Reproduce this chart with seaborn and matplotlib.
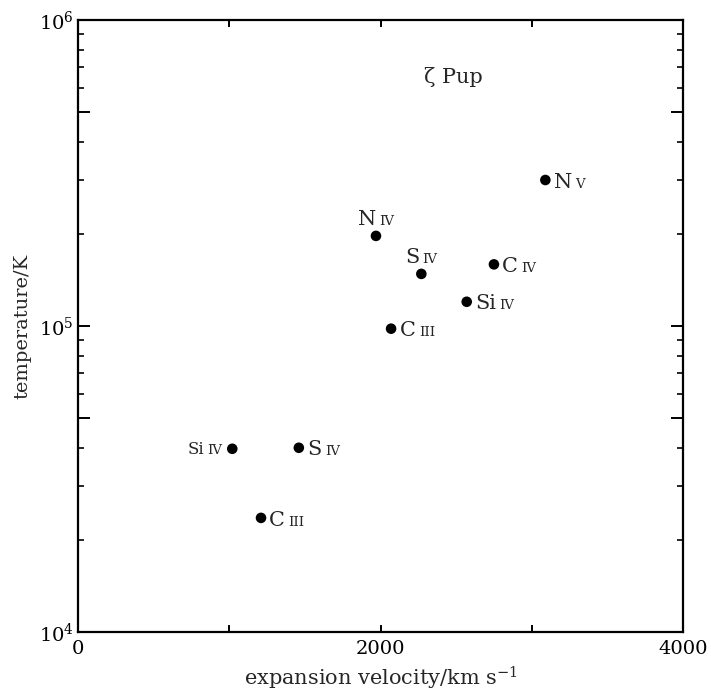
import matplotlib
matplotlib.use("Agg")
import matplotlib.pyplot as plt
from matplotlib.ticker import FixedLocator, FixedFormatter, LogLocator, NullFormatter
import numpy as np
import pandas as pd
import seaborn as sns

# Ions observed in the wind of zeta Puppis
element = ["N", "N", "S", "C", "Si", "C", "Si", "S", "C"]
ion_stage = ["V", "IV", "IV", "IV", "IV", "III", "IV", "IV", "III"]
velocity_kms = [3090, 1970, 2270, 2750, 2570, 2070, 1020, 1460, 1210]
temperature_K = [3.0e5, 1.97e5, 1.48e5, 1.59e5, 1.2e5, 9.8e4, 3.97e4, 4.0e4, 2.36e4]

star_name = "ζ Pup"
x_label = r"expansion velocity/km s$^{-1}$"
y_label = "temperature/K"
x_ticks = [0, 1000, 2000, 3000, 4000]
x_tick_labels = ["0", "", "2000", "", "4000"]
y_ticks = [1e4, 5e4, 1e5, 5e5, 1e6]
y_tick_labels = [r"$10^4$", "", r"$10^5$", "", r"$10^6$"]

df = pd.DataFrame({"velocity": velocity_kms, "temperature": temperature_K,
                   "element": element, "stage": ion_stage})

sns.set_style("ticks")
plt.rcParams["font.family"] = ["DejaVu Serif"]
plt.rcParams["mathtext.fontset"] = "dejavuserif"

DPI = 100
fig = plt.figure(figsize=(7.11, 6.91), dpi=DPI)
ax = fig.add_axes([78 / 711, 1 - 632 / 691, 605 / 711, 612 / 691])

sns.scatterplot(data=df, x="velocity", y="temperature", ax=ax, color="black",
                s=58, edgecolor="none", legend=False, zorder=3)

ax.set_yscale("log")
ax.set_xlim(0, 4000)
ax.set_ylim(1e4, 1e6)

ax.xaxis.set_major_locator(FixedLocator(x_ticks))
ax.xaxis.set_major_formatter(FixedFormatter(x_tick_labels))
ax.xaxis.set_minor_locator(FixedLocator([]))
ax.yaxis.set_major_locator(FixedLocator(y_ticks))
ax.yaxis.set_major_formatter(FixedFormatter(y_tick_labels))
ax.yaxis.set_minor_locator(LogLocator(base=10, subs=(2, 3, 4, 6, 7, 8, 9)))
ax.yaxis.set_minor_formatter(NullFormatter())

for s in ax.spines.values():
    s.set_visible(True)
    s.set_linewidth(1.6)
    s.set_color("black")

ax.tick_params(axis="x", which="major", direction="in", top=True, bottom=True,
               length=5, width=1.4, labelsize=14, pad=6, colors="black")
ax.tick_params(axis="y", which="major", direction="in", left=True, right=True,
               length=8.5, width=1.4, labelsize=14, pad=3, colors="black")
ax.tick_params(axis="y", which="minor", direction="in", left=True, right=True,
               length=4.5, width=1.4)

ax.set_xlabel(x_label, fontsize=15)
ax.set_ylabel(y_label, fontsize=14)
ax.xaxis.set_label_coords(0.5, -0.054)
ax.yaxis.set_label_coords(-0.077, 0.5)

ax.text(0.621, 0.907, star_name, transform=ax.transAxes, ha="center",
        va="center", fontsize=15)

# ion labels: element symbol followed by a smaller ionisation stage numeral
sides = ["right", "above", "above", "right", "right", "right", "left", "right", "right"]
el_scales = [1, 1, 1, 1, 1, 1, 0.8, 1, 1]
EL_SIZE, NUM_SIZE, GAP = 15, 9.5, 2.5

fig.canvas.draw()
renderer = fig.canvas.get_renderer()
for x, y, el, st, side, sc in zip(df["velocity"], df["temperature"], df["element"],
                                  df["stage"], sides, el_scales):
    t1 = ax.annotate(el, (x, y), xytext=(0, 0), textcoords="offset points",
                     fontsize=EL_SIZE * sc, ha="left", va="baseline")
    t2 = ax.annotate(st, (x, y), xytext=(0, 0), textcoords="offset points",
                     fontsize=NUM_SIZE, ha="left", va="baseline")
    w1 = t1.get_window_extent(renderer).width * 72 / DPI
    w2 = t2.get_window_extent(renderer).width * 72 / DPI
    gap = GAP * sc
    total = w1 + gap + w2
    if side == "right":
        x0, y0 = 6.0, -5.5
    elif side == "left":
        x0, y0 = -7.5 - total, -3.6
    else:
        x0, y0 = -total / 2, 7.5
    t1.xyann = (x0, y0)
    t2.xyann = (x0 + w1 + gap, y0)

fig.savefig("out.png", dpi=DPI)
